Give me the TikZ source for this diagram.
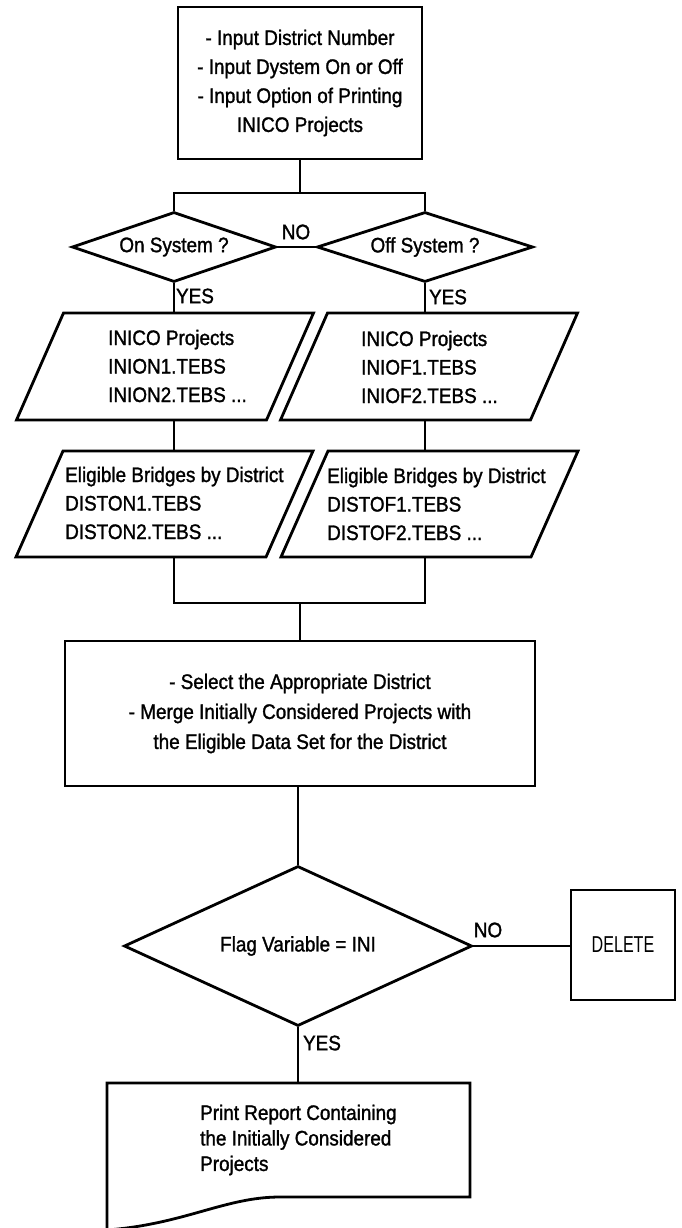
\documentclass[tikz,border=0pt]{standalone}
\usepackage{fontspec}
\setmainfont{Liberation Sans}[FakeStretch=0.9,FakeBold=1.3]
\newfontfamily\thinfont{Liberation Sans}[FakeStretch=0.7]
\usetikzlibrary{shapes.geometric}

\begin{document}
\begin{tikzpicture}[x=1pt,y=-1pt,
    every node/.style={font=\fontsize{21}{29}\selectfont},
    box/.style={draw,line width=2.8pt,rectangle,inner sep=0pt},
    decision/.style={draw,line width=2.8pt,diamond,inner sep=0pt,aspect=2.8},
    frame/.style={rectangle,inner sep=0pt,outer sep=0pt},
    ptext/.style={inner sep=0pt,anchor=west,align=left,font=\fontsize{21}{28.5}\selectfont},
    lbl/.style={inner sep=0pt},
    line/.style={line width=2.8pt}]
    \useasboundingbox (0,0) rectangle (681,1228);

    % Input
    \node[box,minimum width=244pt,minimum height=152pt,align=center] (input) at (300,83)
        {- Input District Number\\- Input Dystem On or Off\\- Input Option of Printing\\INICO Projects};
    \coordinate (split) at (300,193);

    % On / Off system
    \node[decision,minimum width=204pt,minimum height=70pt] (onsys) at (174,247) {On System ?};
    \node[decision,minimum width=216pt,minimum height=70pt] (offsys) at (425,247) {Off System ?};
    \draw[line] (input.south) -- (split);
    \draw[line] (onsys.north) |- (split) -| (offsys.north);
    \draw[line] (onsys.east) -- (offsys.west);
    \node[lbl] (nosys) at (296,232) {NO};
    \node[lbl] (yeson) at (195,296) {YES};
    \node[lbl] (yesoff) at (448,297) {YES};

    % INICO projects
    \node[frame,minimum width=250pt,minimum height=107pt] (inion) at (165,366.5) {};
    \node[frame,minimum width=250pt,minimum height=107pt] (iniof) at (429,366.5) {};
    \node[ptext] (inionT) at (108,366) {INICO Projects\\INION1.TEBS\\INION2.TEBS ...};
    \node[ptext] (iniofT) at (361,367) {INICO Projects\\INIOF1.TEBS\\INIOF2.TEBS ...};

    % Eligible bridges
    \node[frame,minimum width=250pt,minimum height=106pt] (diston) at (164.5,504) {};
    \node[frame,minimum width=250pt,minimum height=106pt] (distof) at (429.5,504) {};
    \node[ptext] (distonT) at (65,503) {Eligible Bridges by District\\DISTON1.TEBS\\DISTON2.TEBS ...};
    \node[ptext] (distofT) at (327,504) {Eligible Bridges by District\\DISTOF1.TEBS\\DISTOF2.TEBS ...};

    \foreach \n in {inion,iniof,diston,distof}
        \draw[line] ([xshift=23.5pt]\n.north west) -- ([xshift=23.5pt]\n.north east)
            -- ([xshift=-23.5pt]\n.south east) -- ([xshift=-23.5pt]\n.south west) -- cycle;

    \draw[line] (onsys.south) -- (onsys.south |- inion.north);
    \draw[line] (offsys.south) -- (offsys.south |- iniof.north);
    \draw[line] (inion.south -| onsys.south) -- (diston.north -| onsys.south);
    \draw[line] (iniof.south -| offsys.south) -- (distof.north -| offsys.south);

    % Merge
    \coordinate (join) at (300,603);
    \node[box,minimum width=470pt,minimum height=145pt,align=center,font=\fontsize{21}{30}\selectfont] (merge) at (300,713.5)
        {- Select the Appropriate District\\- Merge Initially Considered Projects with\\the Eligible Data Set for the District};
    \draw[line] (diston.south -| onsys.south) |- (join) -| (distof.south -| offsys.south);
    \draw[line] (join) -- (merge.north);

    % Flag
    \node[decision,minimum width=348pt,minimum height=160pt] (flag) at (298,946) {Flag Variable = INI};
    \node[box,minimum width=104pt,minimum height=110pt,font=\thinfont\fontsize{23}{27}\selectfont] (delete) at (623,945) {DELETE};
    \draw[line] (flag.north |- merge.south) -- (flag.north);
    \draw[line] (flag.east) -- (flag.east -| delete.west);
    \node[lbl] (noflag) at (488,930) {NO};
    \node[lbl] (yesflag) at (322,1043) {YES};

    % Report
    \node[frame,minimum width=363pt,minimum height=114pt] (report) at (288.5,1140) {};
    \node[ptext,font=\fontsize{21}{25.5}\selectfont] (reportT) at (200,1140)
        {Print Report Containing\\the Initially Considered\\Projects};
    \draw[line] (report.north east) -- (report.south east) -- ([xshift=-190pt]report.south east)
        .. controls ([xshift=-245pt]report.south east) and ([xshift=78pt,yshift=-27pt]report.south west)
        .. ([yshift=-33pt]report.south west) -- (report.north west) -- cycle;
    \draw[line] (flag.south) -- (flag.south |- report.north);
\end{tikzpicture}
\end{document}
